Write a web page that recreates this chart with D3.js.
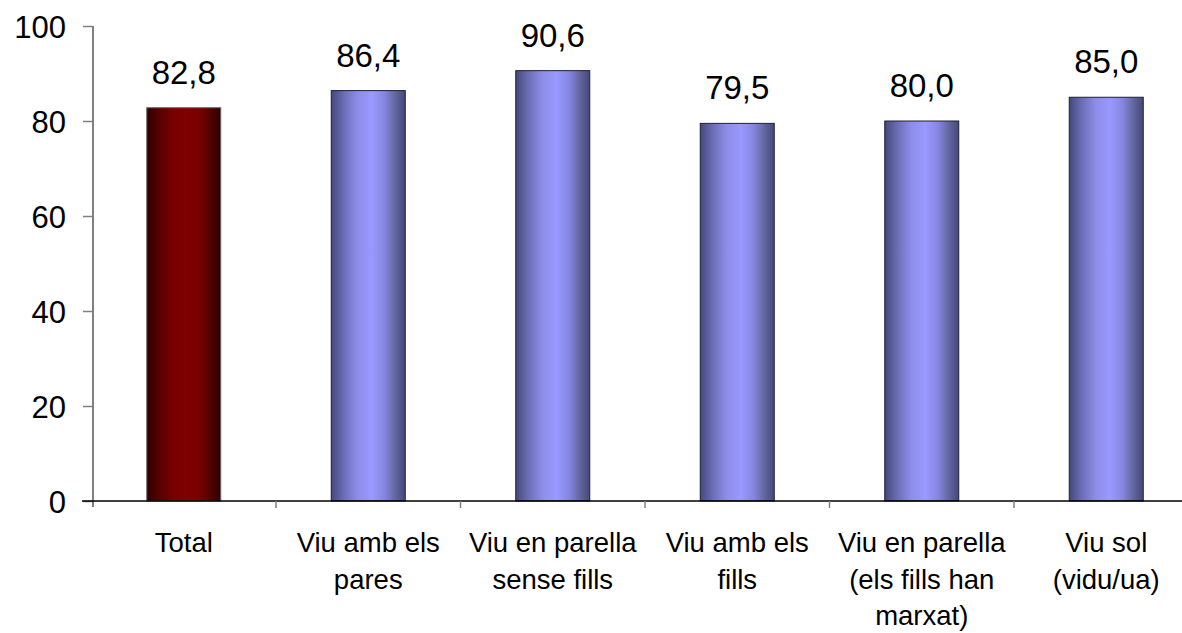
<!DOCTYPE html>
<html>
<head>
<meta charset="utf-8">
<script src="https://cdn.jsdelivr.net/npm/d3@7"></script>
<style>
  html, body { margin: 0; padding: 0; background: #fff; }
  svg { display: block; }
  text { font-family: "Liberation Sans", Arial, sans-serif; fill: #000; }
</style>
</head>
<body>
<svg id="chart" width="1182" height="633"></svg>
<script>
const categories = [
  ["Total"],
  ["Viu amb els", "pares"],
  ["Viu en parella", "sense fills"],
  ["Viu amb els", "fills"],
  ["Viu en parella", "(els fills han", "marxat)"],
  ["Viu sol", "(vidu/ua)"]
];
const values = [82.8, 86.4, 90.6, 79.5, 80.0, 85.0];
const valueLabels = ["82,8", "86,4", "90,6", "79,5", "80,0", "85,0"];
const yTicks = [0, 20, 40, 60, 80, 100];

(function () {
const svg = d3.select("#chart");
const plotLeft = 93, plotBottom = 501, plotTop = 26;
const step = 184.5;

const keys = categories.map((c, i) => i);
const x = d3.scaleBand().domain(keys).range([plotLeft - 1.5, plotLeft - 1.5 + step * keys.length]).padding(0);
const y = d3.scaleLinear().domain([0, 100]).range([plotBottom, plotTop]);

// gradients
const defs = svg.append("defs");
function grad(id, stops) {
  const g = defs.append("linearGradient").attr("id", id).attr("x1", "0%").attr("x2", "100%").attr("y1", "0%").attr("y2", "0%");
  stops.forEach(s => g.append("stop").attr("offset", s[0]).attr("stop-color", s[1]));
}
grad("gBlue", [["0%", "#45487a"], ["18%", "#6d70b8"], ["35%", "#8c8ce8"], ["55%", "#9999ff"], ["72%", "#8686e0"], ["88%", "#606399"], ["100%", "#45487a"]]);
grad("gRed", [["0%", "#2e0000"], ["18%", "#5a0000"], ["35%", "#780000"], ["55%", "#800000"], ["72%", "#760000"], ["88%", "#4e0000"], ["100%", "#2e0000"]]);

// y axis
const yAxis = d3.axisLeft(y).tickValues(yTicks).tickSize(10).tickPadding(17).tickFormat(d3.format("d"));
const gy = svg.append("g").attr("transform", `translate(${plotLeft},0)`).call(yAxis);
gy.select(".domain").attr("stroke", "#808080").attr("stroke-width", 2).attr("d", `M0,${plotTop}V${plotBottom + 6}`);
gy.selectAll(".tick line").attr("stroke", "#808080").attr("stroke-width", 1.5);
gy.selectAll(".tick text").attr("font-size", 31).attr("font-family", '"Liberation Sans", Arial, sans-serif').attr("fill", "#000").attr("dy", "0.36em");

// bars
const barW = 74;
svg.append("g").selectAll("rect").data(values).join("rect")
  .attr("x", (d, i) => x(i) + x.bandwidth() / 2 - barW / 2)
  .attr("y", d => y(d))
  .attr("width", barW)
  .attr("height", d => y(0) - y(d))
  .attr("fill", (d, i) => i === 0 ? "url(#gRed)" : "url(#gBlue)")
  .attr("stroke", (d, i) => i === 0 ? "#6a6a6a" : "#1e1e3a")
  .attr("stroke-width", 1);

// x axis
const xAxis = d3.axisBottom(x).tickSize(0).tickFormat("");
const gx = svg.append("g").attr("transform", `translate(0,${plotBottom})`).call(xAxis);
gx.select(".domain").remove();
gx.append("line").attr("x1", plotLeft - 11).attr("x2", 1182).attr("y1", 0).attr("y2", 0).attr("stroke", "#000").attr("stroke-width", 1.5);
gx.selectAll(".boundary").data(keys.slice(1)).join("line")
  .attr("x1", d => x(d)).attr("x2", d => x(d)).attr("y1", 0).attr("y2", 7)
  .attr("stroke", "#808080").attr("stroke-width", 1.5);

// category labels
const lab = svg.append("g").selectAll("text").data(categories).join("text")
  .attr("text-anchor", "middle")
  .attr("font-size", 27.5)
  .attr("x", (d, i) => x(i) + x.bandwidth() / 2)
  .attr("y", 552);
lab.selectAll("tspan").data(d => d).join("tspan")
  .attr("x", function () { return d3.select(this.parentNode).attr("x"); })
  .attr("dy", (d, j) => j === 0 ? 0 : 36.5)
  .text(d => d);

// value labels
svg.append("g").selectAll("text").data(values).join("text")
  .attr("text-anchor", "middle")
  .attr("font-size", 33)
  .attr("x", (d, i) => x(i) + x.bandwidth() / 2)
  .attr("y", d => y(d) - 24)
  .text((d, i) => valueLabels[i]);
})();
</script>
</body>
</html>
